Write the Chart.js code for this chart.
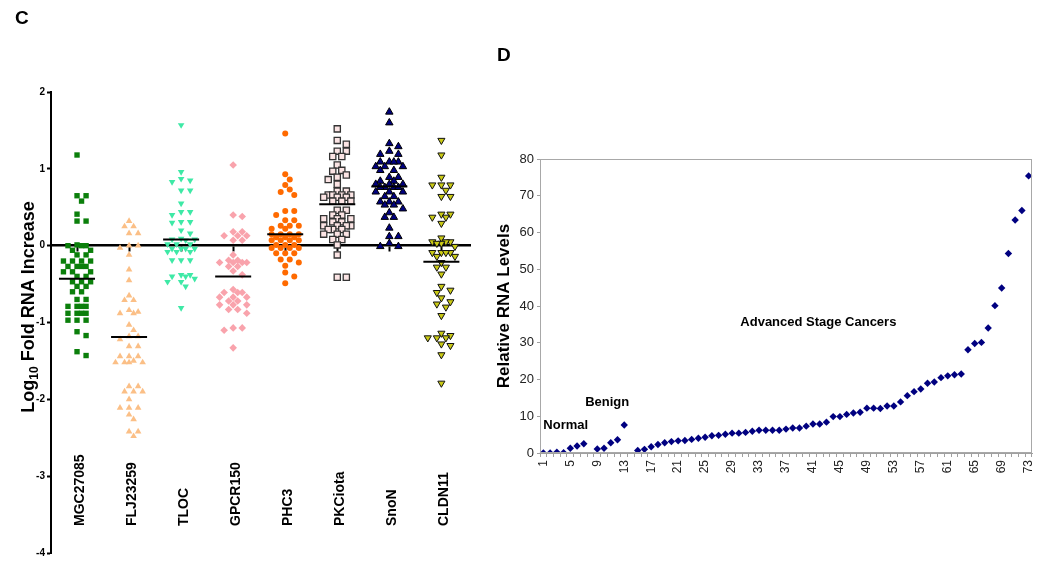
<!DOCTYPE html>
<html>
<head>
<meta charset="utf-8">
<script src="https://cdn.jsdelivr.net/npm/chart.js@4.4.1/dist/chart.umd.min.js"></script>
<style>
  html, body { margin: 0; padding: 0; background: #fff; }
  #wrap { position: relative; width: 1050px; height: 573px; overflow: hidden; }
  .panel { position: absolute; top: 0; height: 573px; }
  #boxC { left: 0; width: 490px; }
  #boxD { left: 490px; width: 560px; }
  .tag { position: absolute; font: bold 19px "Liberation Sans", Arial, sans-serif; line-height: 19px; }
</style>
</head>
<body>
<div id="wrap">
  <div class="panel" id="boxC"><canvas id="chartC"></canvas></div>
  <div class="panel" id="boxD"><canvas id="chartD"></canvas></div>
  <div class="tag" style="left:15px;top:8px">C</div>
  <div class="tag" style="left:497px;top:45px">D</div>
</div>
<script>
const FONT = '"Liberation Sans", Arial, sans-serif';

// ---- panel C: log10 fold change per gene ----
const genes = ['MGC27085', 'FLJ23259', 'TLOC', 'GPCR150', 'PHC3', 'PKCiota', 'SnoN', 'CLDN11'];
const mgc27085 = [1.18, 0.65, 0.65, 0.58, 0.41, 0.32, 0.32, 0.01, 0.0, 0.0, 0.0, -0.06, -0.06, -0.12, -0.12,
  -0.2, -0.2, -0.2, -0.2, -0.27, -0.27, -0.27, -0.27, -0.34, -0.34, -0.34, -0.4, -0.4, -0.47, -0.47, -0.47,
  -0.53, -0.53, -0.6, -0.6, -0.7, -0.7, -0.79, -0.79, -0.79, -0.79, -0.88, -0.88, -0.88, -0.88, -0.97, -0.97,
  -0.97, -1.12, -1.17, -1.38, -1.43];
const flj23259 = [0.32, 0.25, 0.25, 0.16, 0.16, 0.0, 0.0, -0.03, -0.12, -0.31, -0.45, -0.65, -0.71, -0.71,
  -0.84, -0.86, -0.88, -0.88, -1.03, -1.1, -1.18, -1.18, -1.22, -1.31, -1.31, -1.44, -1.44, -1.44, -1.5,
  -1.52, -1.52, -1.52, -1.52, -1.83, -1.83, -1.9, -1.9, -1.9, -2.0, -2.11, -2.11, -2.11, -2.2, -2.26, -2.42,
  -2.42, -2.48];
const tloc = [1.57, 0.96, 0.87, 0.85, 0.83, 0.72, 0.72, 0.55, 0.44, 0.44, 0.4, 0.31, 0.31, 0.3, 0.2, 0.16,
  0.09, 0.08, 0.08, 0.07, 0.02, 0.02, 0.02, -0.04, -0.04, -0.04, -0.04, -0.08, -0.08, -0.08, -0.19, -0.19,
  -0.19, -0.38, -0.38, -0.4, -0.4, -0.43, -0.47, -0.47, -0.53, -0.81];
const gpcr150 = [1.05, 0.4, 0.38, 0.18, 0.18, 0.13, 0.13, 0.13, 0.07, 0.07, -0.12, -0.19, -0.19, -0.22,
  -0.22, -0.22, -0.22, -0.27, -0.27, -0.33, -0.38, -0.57, -0.61, -0.61, -0.61, -0.67, -0.67, -0.67, -0.72,
  -0.72, -0.77, -0.77, -0.77, -0.83, -0.83, -0.88, -1.07, -1.07, -1.1, -1.33];
const phc3 = [1.46, 0.93, 0.86, 0.79, 0.73, 0.7, 0.66, 0.45, 0.45, 0.4, 0.33, 0.33, 0.26, 0.26, 0.26, 0.22,
  0.22, 0.15, 0.15, 0.15, 0.15, 0.11, 0.11, 0.11, 0.07, 0.07, 0.07, 0.07, 0.01, 0.01, 0.01, -0.03, -0.03,
  -0.03, -0.03, -0.1, -0.1, -0.1, -0.18, -0.18, -0.22, -0.26, -0.35, -0.4, -0.49];
const pkciota = [1.52, 1.37, 1.32, 1.23, 1.23, 1.16, 1.16, 1.05, 0.98, 0.97, 0.92, 0.89, 0.86, 0.8, 0.71,
  0.71, 0.66, 0.66, 0.66, 0.66, 0.63, 0.63, 0.63, 0.58, 0.58, 0.58, 0.46, 0.46, 0.4, 0.4, 0.35, 0.35, 0.35,
  0.31, 0.31, 0.26, 0.26, 0.26, 0.26, 0.21, 0.21, 0.21, 0.15, 0.15, 0.15, 0.08, 0.08, 0.01, -0.12, -0.41, -0.41];
const snon = [1.74, 1.6, 1.33, 1.29, 1.23, 1.19, 1.19, 1.09, 1.09, 1.09, 1.09, 1.03, 1.03, 1.03, 0.98, 0.98,
  0.89, 0.89, 0.84, 0.84, 0.8, 0.8, 0.8, 0.76, 0.76, 0.76, 0.76, 0.7, 0.7, 0.7, 0.64, 0.64, 0.57, 0.57, 0.57,
  0.53, 0.53, 0.48, 0.43, 0.37, 0.37, 0.23, 0.12, 0.12, 0.03, -0.01, -0.01];
const cldn11 = [1.37, 1.18, 0.89, 0.79, 0.79, 0.79, 0.72, 0.64, 0.64, 0.41, 0.41, 0.37, 0.37, 0.29, 0.1,
  0.05, 0.05, 0.05, 0.03, 0.03, -0.01, -0.09, -0.09, -0.09, -0.09, -0.14, -0.14, -0.22, -0.28, -0.28, -0.37,
  -0.53, -0.58, -0.61, -0.68, -0.73, -0.76, -0.8, -0.91, -1.14, -1.17, -1.2, -1.2, -1.2, -1.28, -1.3, -1.42,
  -1.79];
const geneMeans = [-0.43, -1.19, 0.08, -0.40, 0.15, 0.54, 0.77, -0.21];
const yTicksC = [2, 1, 0, -1, -2, -3, -4];

// ---- panel D: relative RNA levels per sample ----
const sampleIds = Array.from({ length: 73 }, (_, i) => String(i + 1));
const rnaLevels = [0, 0, 0.2, 0.1, 1.3, 1.9, 2.5, null, 1.1, 1.3, 2.8, 3.6, 7.6, null, 0.7, 1.0, 1.7, 2.3,
  2.8, 3.1, 3.3, 3.4, 3.7, 4.0, 4.3, 4.7, 4.8, 5.1, 5.4, 5.4, 5.6, 5.9, 6.2, 6.2, 6.2, 6.2, 6.5, 6.8, 6.8,
  7.3, 7.9, 7.9, 8.4, 9.9, 9.9, 10.5, 10.9, 11.1, 12.2, 12.2, 12.1, 12.8, 12.8, 13.9, 15.6, 16.7, 17.4, 19.0,
  19.3, 20.5, 21.0, 21.3, 21.5, 28.1, 29.8, 30.1, 34.0, 40.1, 44.9, 54.3, 63.4, 66.0, 75.4];
const stageNames = ['Normal', 'Benign', 'Advanced Stage Cancers'];

// marker looks for panel C
const groupStyles = [
  { shape: 'rect', r: 3.8, fill: '#0b7f0b', line: '#0b7f0b', bw: 0, rot: 0 },
  { shape: 'triangle', r: 3.8, fill: '#fbbf86', line: '#fbbf86', bw: 0, rot: 0 },
  { shape: 'triangle', r: 3.8, fill: '#3ee9a6', line: '#3ee9a6', bw: 0, rot: 180 },
  { shape: 'rectRot', r: 3.8, fill: '#f9a3ac', line: '#f9a3ac', bw: 0, rot: 0 },
  { shape: 'circle', r: 3.0, fill: '#ff6a00', line: '#ff6a00', bw: 0, rot: 0 },
  { shape: 'rect', r: 4.4, fill: '#fbe4e4', line: '#333333', bw: 1.3, rot: 0 },
  { shape: 'triangle', r: 4.3, fill: '#00007e', line: '#000000', bw: 1, rot: 0 },
  { shape: 'triangle', r: 4.1, fill: '#c9c915', line: '#111111', bw: 1, rot: 180 },
];

// spread points sideways so they don't pile up (scatter dot plot look)
function swarm(values) {
  const yPx = 77, xPx = 52.9, step = 4.6, minDist = 6.5;
  const placed = [];
  const offs = new Array(values.length).fill(0);
  const order = values.map((v, i) => i).sort((a, b) => values[b] - values[a]);
  for (const i of order) {
    const py = values[i] * yPx;
    let best = 0, bestGap = -1;
    for (let k = 0; k < 7; k++) {
      const c = k === 0 ? 0 : (k % 2 ? 1 : -1) * Math.ceil(k / 2) * step;
      const gap = placed.reduce((m, p) => Math.min(m, Math.hypot(p.x - c, p.y - py)), Infinity);
      if (gap >= minDist) { best = c; break; }
      if (gap > bestGap + 0.5) { bestGap = gap; best = c; }
    }
    placed.push({ x: best, y: py });
    offs[i] = best / xPx;
  }
  return offs;
}

const groups = [mgc27085, flj23259, tloc, gpcr150, phc3, pkciota, snon, cldn11];
const datasetsC = [{
  label: 'mean',
  data: geneMeans.map((m, i) => ({ x: i, y: m })),
  pointStyle: 'line', pointRadius: 18, borderColor: '#000', borderWidth: 2,
}];
groups.forEach((vals, i) => {
  const st = groupStyles[i];
  const offs = swarm(vals);
  datasetsC.push({
    label: genes[i],
    data: vals.map((v, j) => ({ x: i + offs[j], y: v })),
    pointStyle: st.shape, pointRadius: st.r, pointRotation: st.rot,
    backgroundColor: st.fill, borderColor: st.line, borderWidth: st.bw,
  });
});

const panelCText = {
  id: 'panelCText',
  afterDraw(chart) {
    const { ctx, chartArea, scales } = chart;
    ctx.save();
    ctx.fillStyle = '#000';
    ctx.font = 'bold 14px ' + FONT;
    ctx.textAlign = 'left';
    ctx.textBaseline = 'middle';
    genes.forEach((g, i) => {
      ctx.save();
      ctx.translate(scales.x.getPixelForValue(i) + 3, chartArea.bottom - 27);
      ctx.rotate(-Math.PI / 2);
      ctx.fillText(g, 0, 0);
      ctx.restore();
    });
    // y title with subscript
    const big = 'bold 18px ' + FONT, small = 'bold 12px ' + FONT;
    ctx.font = big;
    const w1 = ctx.measureText('Log').width;
    const w3 = ctx.measureText(' Fold RNA Increase').width;
    ctx.font = small;
    const w2 = ctx.measureText('10').width;
    const total = w1 + w2 + w3;
    ctx.translate(33.5, chartArea.top + 215);
    ctx.rotate(-Math.PI / 2);
    ctx.textBaseline = 'alphabetic';
    let x = -total / 2;
    ctx.font = big; ctx.fillText('Log', x, 0); x += w1;
    ctx.font = small; ctx.fillText('10', x, 4); x += w2;
    ctx.font = big; ctx.fillText(' Fold RNA Increase', x, 0);
    ctx.restore();
  }
};

new Chart(document.getElementById('chartC'), {
  type: 'scatter',
  data: { datasets: datasetsC },
  options: {
    animation: false,
    responsive: true,
    maintainAspectRatio: false,
    layout: { padding: { left: 0, right: 13, top: 92, bottom: 19 } },
    plugins: { legend: { display: false }, tooltip: { enabled: false } },
    scales: {
      x: {
        type: 'linear', min: -0.5, max: 7.55, position: { y: 0 }, z: 1,
        afterBuildTicks: s => { s.ticks = genes.map((g, i) => ({ value: i })); },
        ticks: { display: false },
        grid: { drawOnChartArea: false, tickLength: 5, tickWidth: 2, tickColor: '#000' },
        border: { color: '#000', width: 2.5 }
      },
      y: {
        min: -4, max: 2,
        afterBuildTicks: s => { s.ticks = yTicksC.map(v => ({ value: v })); },
        afterFit: s => { s.width = 51; },
        ticks: { color: '#000', font: { family: FONT, size: 10, weight: 'bold' }, padding: 2 },
        grid: { drawOnChartArea: false, tickLength: 4, tickWidth: 2, tickColor: '#000' },
        border: { color: '#000', width: 2 }
      }
    }
  },
  plugins: [panelCText]
});

const panelDText = {
  id: 'panelDText',
  afterDraw(chart) {
    const { ctx, chartArea, scales } = chart;
    ctx.save();
    ctx.strokeStyle = '#a8a8a8';
    ctx.lineWidth = 1;
    ctx.strokeRect(chartArea.left + 0.5, chartArea.top + 0.5, chartArea.width - 1, chartArea.height - 1);
    ctx.fillStyle = '#000';
    ctx.font = 'bold 13px ' + FONT;
    ctx.textBaseline = 'middle';
    const spots = [[0, 7.6, 'left'], [6.2, 13.7, 'left'], [40.8, 35.4, 'center']];
    stageNames.forEach((t, i) => {
      const [cx, cy, al] = spots[i];
      ctx.textAlign = al;
      ctx.fillText(t, scales.x.getPixelForValue(cx), scales.y.getPixelForValue(cy));
    });
    ctx.restore();
  }
};

new Chart(document.getElementById('chartD'), {
  type: 'line',
  data: {
    labels: sampleIds,
    datasets: [{
      label: 'Relative RNA Levels',
      data: rnaLevels,
      showLine: false,
      pointStyle: 'rectRot', pointRadius: 3.7,
      backgroundColor: '#000080', borderColor: '#000080', borderWidth: 0,
    }]
  },
  options: {
    animation: false,
    responsive: true,
    maintainAspectRatio: false,
    layout: { padding: { left: 4, right: 18, top: 159, bottom: 0 } },
    plugins: { legend: { display: false }, tooltip: { enabled: false } },
    scales: {
      x: {
        offset: true,
        afterFit: s => { s.height = 120; },
        ticks: {
          autoSkip: false, minRotation: 90, maxRotation: 90, padding: 3,
          color: '#222', font: { family: FONT, size: 12 },
          callback: (v, i) => (i % 4 === 0 ? sampleIds[i] : '')
        },
        grid: { offset: true, drawOnChartArea: false, tickLength: 4, tickColor: '#a0a0a0' },
        border: { color: '#a0a0a0', width: 1 }
      },
      y: {
        min: 0, max: 80,
        afterFit: s => { s.width = 46; },
        ticks: { stepSize: 10, padding: 3, color: '#222', font: { family: FONT, size: 13 } },
        grid: { drawOnChartArea: false, tickLength: 3, tickColor: '#a0a0a0' },
        border: { color: '#a0a0a0', width: 1 },
        title: {
          display: true, text: 'Relative RNA Levels', color: '#000',
          font: { family: FONT, size: 17, weight: 'bold' }, padding: { top: 0, bottom: 4 }
        }
      }
    }
  },
  plugins: [panelDText]
});
</script>
</body>
</html>
